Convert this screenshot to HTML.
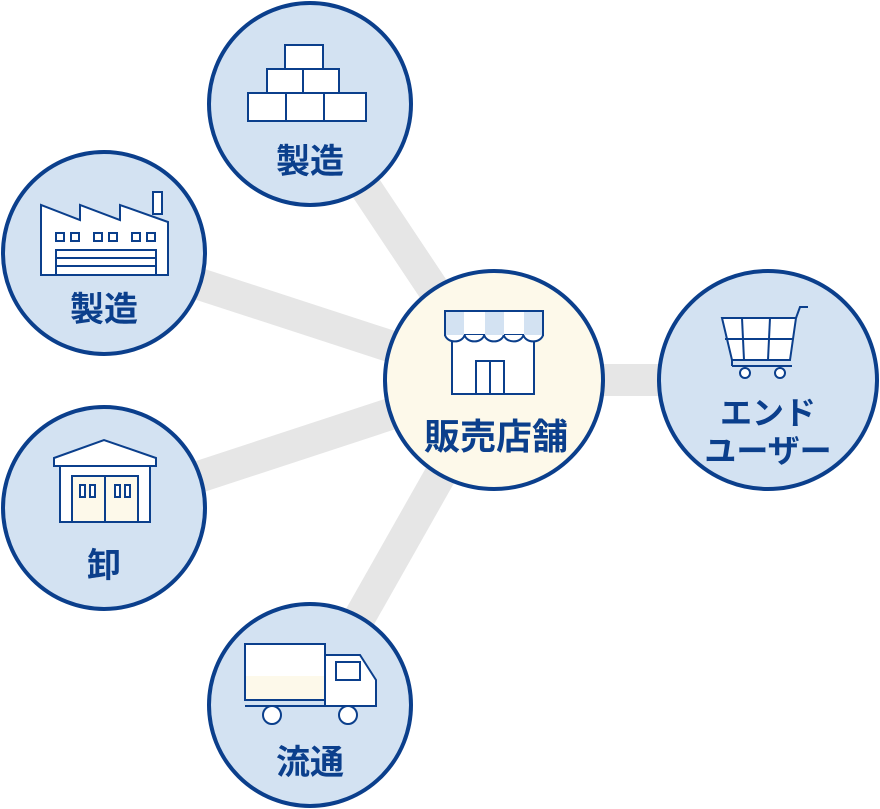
<!DOCTYPE html>
<html><head><meta charset="utf-8"><style>
html,body{margin:0;padding:0;background:#fff;}
svg{display:block}
text{font-family:"Liberation Sans","Noto Sans CJK JP",sans-serif;font-weight:bold;fill:#0b3f8c;text-anchor:middle}
</style></head><body>
<svg width="880" height="809" viewBox="0 0 880 809" xmlns="http://www.w3.org/2000/svg">
<g stroke="#e6e6e6" stroke-width="32">
<line x1="494" y1="380" x2="310" y2="104"/>
<line x1="494" y1="380" x2="104" y2="253"/>
<line x1="494" y1="380" x2="104" y2="508"/>
<line x1="494" y1="380" x2="310" y2="705"/>
<line x1="494" y1="380" x2="768" y2="380"/>
</g>
<g stroke="#0b3f8c" stroke-width="4">
<circle cx="310" cy="104" r="101" fill="#d3e2f2"/>
<circle cx="104" cy="253" r="101" fill="#d3e2f2"/>
<circle cx="104" cy="508" r="101" fill="#d3e2f2"/>
<circle cx="310" cy="705" r="101" fill="#d3e2f2"/>
<circle cx="494" cy="380" r="109" fill="#fdf9ea"/>
<circle cx="768" cy="380" r="109" fill="#d3e2f2"/>
</g>
<g fill="#fff" stroke="#0b3f8c" stroke-width="2">
<rect x="285" y="45" width="38" height="24"/>
<rect x="267" y="69" width="36" height="24"/>
<rect x="303" y="69" width="36" height="24"/>
<rect x="248" y="93" width="38" height="28"/>
<rect x="286" y="93" width="38" height="28"/>
<rect x="324" y="93" width="42" height="28"/>
<path d="M41 275 V205 L80 220 V205 L120 220 V205 L168 222 V275 Z"/>
<rect x="153" y="192" width="9" height="22"/>
<rect x="56" y="250" width="100" height="25"/>
<line x1="56" y1="258" x2="156" y2="258"/><line x1="56" y1="266" x2="156" y2="266"/>
<rect x="56" y="233" width="8" height="8"/><rect x="71" y="233" width="8" height="8"/>
<rect x="94" y="233" width="8" height="8"/><rect x="109" y="233" width="8" height="8"/>
<rect x="132" y="233" width="8" height="8"/><rect x="147" y="233" width="8" height="8"/>
<path d="M54 458 L104 440 L156 458 V466 H54 Z"/>
<rect x="60" y="466" width="90" height="56"/>
<rect x="72" y="476" width="66" height="46" fill="#fdf9ea"/>
<line x1="105" y1="476" x2="105" y2="522"/>
<rect x="80" y="485" width="5" height="12"/><rect x="90" y="485" width="5" height="12"/>
<rect x="115" y="485" width="5" height="12"/><rect x="125" y="485" width="5" height="12"/>
<rect x="245" y="644" width="80" height="56"/>
<rect x="246" y="676" width="78" height="23" fill="#fdf9ea" stroke="none"/>
<path d="M325 655 H360 L376 680 V706 H325 Z"/>
<rect x="336" y="662" width="24" height="18"/>
<line x1="245" y1="706" x2="376" y2="706"/>
<circle cx="272" cy="715" r="9"/><circle cx="348" cy="715" r="9"/>
<rect x="452" y="336" width="82" height="58"/>
<rect x="476" y="361" width="28" height="33"/>
<line x1="490" y1="361" x2="490" y2="394"/>
<rect x="445" y="311" width="98" height="24"/>
<path d="M445 335 a10 8 0 0 0 19.6 0 a10 8 0 0 0 19.6 0 a10 8 0 0 0 19.6 0 a10 8 0 0 0 19.6 0 a10 8 0 0 0 19.6 0"/>
<rect x="446" y="312" width="18" height="23" fill="#d3e2f2" stroke="none"/>
<rect x="485" y="312" width="19" height="23" fill="#d3e2f2" stroke="none"/>
<rect x="524" y="312" width="18" height="23" fill="#d3e2f2" stroke="none"/>
<path d="M722 318 H796 L790 360 H732 Z"/>
<line x1="742" y1="318" x2="744" y2="360"/><line x1="770" y1="318" x2="768" y2="360"/>
<line x1="725" y1="339" x2="793" y2="339"/>
<path d="M796 318 L800 307 H808" fill="none"/>
<line x1="732" y1="360" x2="732" y2="366"/><line x1="732" y1="366" x2="792" y2="366"/>
<circle cx="745" cy="373" r="5"/><circle cx="780" cy="373" r="5"/>
</g>
<text x="310" y="173" font-size="34">製造</text>
<text x="104" y="321" font-size="34">製造</text>
<text x="104" y="577" font-size="34">卸</text>
<text x="310" y="774" font-size="34">流通</text>
<text x="496" y="449" font-size="36">販売店舗</text>
<text x="768" y="424" font-size="32">エンド</text>
<text x="768" y="462" font-size="32">ユーザー</text>
</svg>
</body></html>
